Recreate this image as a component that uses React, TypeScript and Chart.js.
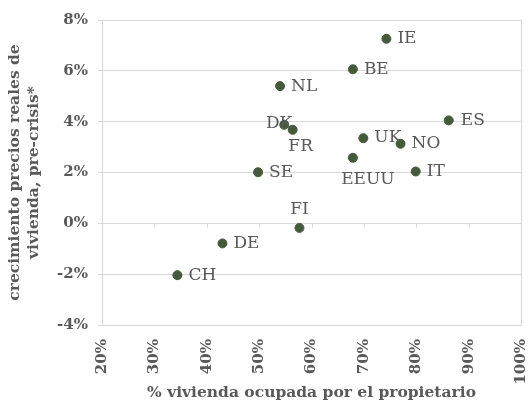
import React, { useEffect, useRef } from "react";
import { Chart, registerables } from "chart.js";

Chart.register(...registerables);

const countries = ["IE", "BE", "NL", "DK", "FR", "ES", "UK", "NO", "EEUU", "SE", "IT", "FI", "DE", "CH"];
const ownership = [74.3, 67.9, 54.0, 54.8, 56.4, 86.2, 69.9, 77.0, 67.9, 49.8, 79.9, 57.7, 43.0, 34.4];
const priceGrowth = [7.26, 6.06, 5.4, 3.88, 3.68, 4.05, 3.35, 3.13, 2.58, 2.01, 2.04, -0.18, -0.79, -2.04];
// label placement relative to the point: [dx, dy, align]
const labelPlacement: [number, number, CanvasTextAlign][] = [
  [11, 0, "left"], [11, 0, "left"], [11, 0, "left"], [8, -1, "right"], [8, 17, "center"],
  [12, 0, "left"], [11, -1, "left"], [11, 0, "left"], [15, 22, "center"], [11, 0, "left"],
  [11, 0, "left"], [0, -18, "center"], [11, 0, "left"], [11, 0, "left"],
];
const xTicks = [20, 30, 40, 50, 60, 70, 80, 90, 100];
const yTicks = [-4, -2, 0, 2, 4, 6, 8];

const TEXT = "#595959";
const GRID = "#d9d9d9";
const POINT = "#455a3a";
const FONT = "'DejaVu Serif', serif";

const decorPlugin = {
  id: "decor",
  beforeDatasetsDraw(chart: any) {
    const { ctx, chartArea, scales } = chart;
    ctx.save();
    ctx.strokeStyle = GRID;
    ctx.lineWidth = 1;
    // right border
    ctx.beginPath();
    ctx.moveTo(chartArea.right + 0.5, chartArea.top);
    ctx.lineTo(chartArea.right + 0.5, chartArea.bottom);
    ctx.stroke();
    // x-axis tick marks on the 0% line
    const y0 = Math.round(scales.y.getPixelForValue(0)) + 0.5;
    ctx.beginPath();
    xTicks.forEach((v) => {
      const x = Math.round(scales.x.getPixelForValue(v)) + 0.5;
      ctx.moveTo(x, y0);
      ctx.lineTo(x, y0 + 4);
    });
    ctx.stroke();
    ctx.restore();
  },
  afterDatasetsDraw(chart: any) {
    const { ctx } = chart;
    const meta = chart.getDatasetMeta(0);
    ctx.save();
    ctx.font = `17px ${FONT}`;
    ctx.fillStyle = TEXT;
    ctx.textBaseline = "middle";
    meta.data.forEach((pt: any, i: number) => {
      const [dx, dy, align] = labelPlacement[i];
      ctx.textAlign = align;
      ctx.fillText(countries[i], pt.x + dx, pt.y + dy);
    });
    ctx.restore();
  },
};

export default function App() {
  const ref = useRef<HTMLCanvasElement>(null);
  useEffect(() => {
    if (!ref.current) return;
    const chart = new Chart(ref.current, {
      type: "scatter",
      data: {
        datasets: [
          {
            data: ownership.map((x, i) => ({ x, y: priceGrowth[i] })),
            backgroundColor: POINT,
            borderColor: POINT,
            pointRadius: 4.5,
            pointHoverRadius: 4.5,
          },
        ],
      },
      options: {
        responsive: false,
        animation: false,
        events: [],
        layout: { padding: { top: 20, right: 9, left: 0, bottom: 0 } },
        plugins: { legend: { display: false }, tooltip: { enabled: false } },
        scales: {
          x: {
            type: "linear",
            min: 20,
            max: 100,
            afterBuildTicks: (s: any) => { s.ticks = xTicks.map((v) => ({ value: v })); },
            afterFit: (s: any) => {
              s.height = 80;
              s.paddingLeft = 0;
              s.paddingRight = 0;
            },
            grid: { display: true, drawOnChartArea: false, drawTicks: false },
            border: { display: true, color: GRID },
            ticks: {
              minRotation: 90,
              maxRotation: 90,
              padding: 14,
              color: TEXT,
              font: { family: FONT, size: 15, weight: "bold" },
              callback: (v: any) => v + "%",
            },
            title: {
              display: true,
              text: "% vivienda ocupada por el propietario",
              color: TEXT,
              font: { family: FONT, size: 15.5, weight: "bold" },
              padding: { bottom: 3 },
            },
          },
          y: {
            type: "linear",
            min: -4,
            max: 8,
            afterBuildTicks: (s: any) => { s.ticks = yTicks.map((v) => ({ value: v })); },
            afterFit: (s: any) => {
              s.width = 102;
              s.paddingTop = 0;
              s.paddingBottom = 0;
            },
            grid: { color: GRID, tickLength: 4 },
            border: { display: true, color: GRID },
            ticks: {
              padding: 10,
              color: TEXT,
              font: { family: FONT, size: 15, weight: "bold" },
              callback: (v: any) => v + "%",
            },
            title: {
              display: true,
              text: ["crecimiento precios reales de", "vivienda, pre-crisis*"],
              color: TEXT,
              font: { family: FONT, size: 15.5, weight: "bold" },
              padding: { top: 6 },
            },
          },
        },
      },
      plugins: [decorPlugin],
    });
    return () => chart.destroy();
  }, []);
  return (
    <div style={{ position: "absolute", left: 0, top: 0, width: 530, height: 405, background: "#fff" }}>
      <canvas ref={ref} width={530} height={405} />
    </div>
  );
}
